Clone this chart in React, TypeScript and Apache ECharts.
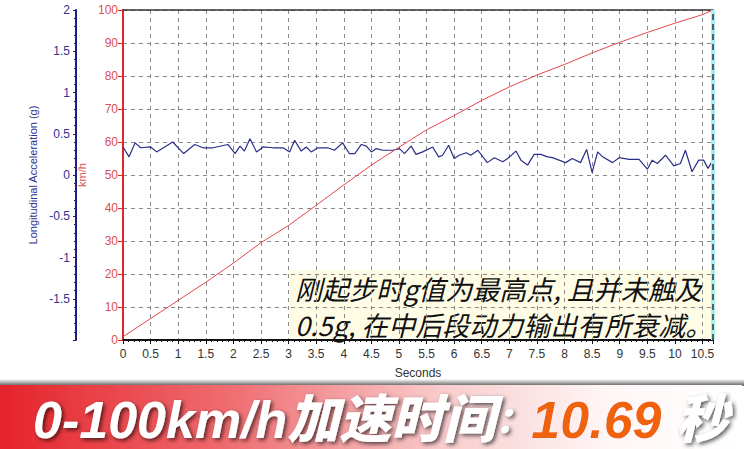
import { useEffect, useRef } from "react";
import * as echarts from "echarts";

// speed trace (km/h) against time (s)
const speedTime = [0, 0.5, 1, 1.5, 2, 2.5, 3, 3.5, 4, 4.5, 5, 5.5, 6, 6.5, 7, 7.5, 8, 8.5, 9, 9.5, 10, 10.5, 10.69];
const speedKmh = [1, 6.5, 12, 17.5, 23.3, 29.5, 34.7, 40.8, 47, 53, 58.4, 63.7, 68, 72.6, 76.7, 80.3, 83.5, 87, 90.2, 93.2, 96, 98.6, 100];

// longitudinal acceleration (g) against time (s)
const accTime = [
  0, 0.11, 0.22, 0.32, 0.5, 0.61, 0.9, 1.1, 1.3, 1.45, 1.63, 1.9, 2.03, 2.12, 2.2, 2.3, 2.42, 2.54, 2.72, 2.9,
  3.02, 3.11, 3.23, 3.32, 3.41, 3.53, 3.71, 3.83, 3.98, 4.1, 4.2, 4.32, 4.41, 4.5, 4.59, 4.71, 4.89, 5.01, 5.1,
  5.22, 5.31, 5.43, 5.61, 5.72, 5.79, 5.9, 6.0, 6.09, 6.22, 6.3, 6.43, 6.6, 6.73, 6.88, 6.97, 7.12, 7.21, 7.33,
  7.45, 7.57, 7.69, 7.78, 7.9, 8.02, 8.14, 8.29, 8.4, 8.5, 8.6, 8.69, 8.87, 8.99, 9.17, 9.35, 9.5, 9.59, 9.68,
  9.83, 9.98, 10.1, 10.19, 10.31, 10.43, 10.52, 10.6, 10.69,
];
const accG = [
  0.34, 0.22, 0.39, 0.33, 0.34, 0.28, 0.4, 0.26, 0.37, 0.33, 0.33, 0.37, 0.26, 0.35, 0.29, 0.44, 0.28, 0.34, 0.33, 0.33,
  0.28, 0.42, 0.29, 0.34, 0.28, 0.33, 0.33, 0.3, 0.39, 0.26, 0.26, 0.37, 0.35, 0.28, 0.32, 0.3, 0.3, 0.32, 0.26,
  0.35, 0.25, 0.28, 0.34, 0.22, 0.24, 0.36, 0.2, 0.24, 0.27, 0.24, 0.3, 0.15, 0.21, 0.16, 0.2, 0.29, 0.18, 0.12,
  0.25, 0.25, 0.22, 0.21, 0.18, 0.15, 0.2, 0.15, 0.31, 0.03, 0.28, 0.22, 0.15, 0.21, 0.19, 0.19, 0.07, 0.18, 0.14,
  0.24, 0.11, 0.14, 0.3, 0.04, 0.18, 0.18, 0.08, 0.18,
];

const runTime = 10.69;
const noteLines = ["刚起步时g值为最高点, 且并未触及", "0.5g, 在中后段动力输出有所衰减。"];
const bannerLabel = "0-100km/h加速时间";
const bannerValue = "10.69";
const bannerUnit = "秒";

const FONT = '"Liberation Sans", Arial, sans-serif';
const RED = "#e0262a";
const NAVY = "#1c1f7e";

export default function App() {
  const chartRef = useRef<HTMLDivElement>(null);

  useEffect(() => {
    if (!chartRef.current) return;
    const chart = echarts.init(chartRef.current, null, { renderer: "svg" });

    const dashed = { color: "#8a8a8a", type: [4, 4] as number[], width: 1 };
    const bannerText = {
      fontSize: 52,
      fontWeight: 900,
      fontStyle: "italic",
      fontFamily: '"Liberation Sans", "Noto Sans CJK SC", sans-serif',
    };
    const whiteShadow = {
      fill: "#fff",
      textShadowColor: "rgba(0,0,0,0.65)",
      textShadowBlur: 4,
      textShadowOffsetX: 2,
      textShadowOffsetY: 2,
    };

    chart.setOption({
      animation: false,
      backgroundColor: "#fff",
      grid: { left: 123, right: 31, top: 10, bottom: 109 },
      xAxis: [
        {
          type: "value",
          min: 0,
          max: runTime,
          interval: 0.5,
          position: "bottom",
          axisLine: { show: true, onZero: false, lineStyle: { color: "#111", width: 2 } },
          axisTick: { show: true, length: 4, lineStyle: { color: "#111" } },
          minorTick: { show: true, splitNumber: 5, length: 2, lineStyle: { color: "#111" } },
          axisLabel: { color: "#333", fontSize: 12, fontFamily: FONT, margin: 8, showMaxLabel: false },
          splitLine: { show: true, lineStyle: dashed },
          name: "Seconds",
          nameLocation: "middle",
          nameGap: 27,
          nameTextStyle: { color: "#333", fontSize: 12, fontFamily: FONT },
        },
        {
          type: "value",
          min: 0,
          max: runTime,
          position: "top",
          axisLine: { show: true, onZero: false, lineStyle: { color: "#333", width: 1.5 } },
          axisTick: { show: false },
          axisLabel: { show: false },
          splitLine: { show: false },
        },
      ],
      yAxis: [
        {
          type: "value",
          min: 0,
          max: 100,
          interval: 10,
          position: "left",
          axisLine: { show: true, onZero: false, lineStyle: { color: RED, width: 2 } },
          axisTick: { show: true, length: 5, lineStyle: { color: RED } },
          axisLabel: { color: "#d9504f", fontSize: 12, fontFamily: FONT, margin: 5 },
          splitLine: { show: true, lineStyle: dashed },
          name: "km/h",
          nameLocation: "middle",
          nameGap: 30,
          nameTextStyle: { color: "#d9504f", fontSize: 11, fontFamily: FONT },
        },
        {
          type: "value",
          min: -2,
          max: 2,
          interval: 0.5,
          position: "left",
          offset: 47,
          axisLine: { show: true, onZero: false, lineStyle: { color: NAVY, width: 2 } },
          axisTick: { show: true, length: 3, lineStyle: { color: NAVY } },
          minorTick: { show: true, splitNumber: 5, length: 2, lineStyle: { color: NAVY } },
          axisLabel: { color: "#2e3290", fontSize: 12, fontFamily: FONT, margin: 6, showMinLabel: false },
          splitLine: { show: false },
          name: "Longitudinal Acceleration (g)",
          nameLocation: "middle",
          nameGap: 34,
          nameTextStyle: { color: "#2e3290", fontSize: 11, fontFamily: FONT },
        },
      ],
      series: [
        {
          type: "line",
          xAxisIndex: 0,
          yAxisIndex: 1,
          data: accTime.map((t, i) => [t, accG[i]]),
          symbol: "none",
          lineStyle: { color: "#2a2f88", width: 1.2 },
          markLine: {
            silent: true,
            symbol: "none",
            label: { show: false },
            lineStyle: { color: "#a8eef2", type: "solid", width: 4 },
            data: [{ xAxis: runTime }],
          },
        },
        {
          type: "line",
          xAxisIndex: 0,
          yAxisIndex: 0,
          data: speedTime.map((t, i) => [t, speedKmh[i]]),
          symbol: "none",
          lineStyle: { color: "#e2474d", width: 1 },
          markLine: {
            silent: true,
            symbol: "none",
            label: { show: false },
            lineStyle: { color: "#333", type: [6, 4], width: 1.5 },
            data: [{ xAxis: runTime }],
          },
        },
      ],
      graphic: [
        {
          type: "group",
          children: [
            {
              type: "rect",
              shape: { x: 290, y: 270, width: 428, height: 68 },
              style: { fill: "rgba(255,252,228,0.92)" },
            },
            {
              type: "text",
              style: {
                x: 295,
                y: 288,
                text: noteLines[0],
                fill: "#111",
                fontSize: 27,
                fontStyle: "italic",
                fontFamily: '"Noto Sans CJK SC", sans-serif',
                verticalAlign: "middle",
              },
            },
            {
              type: "text",
              style: {
                x: 295,
                y: 324,
                text: noteLines[1],
                fill: "#111",
                fontSize: 27,
                fontStyle: "italic",
                fontFamily: '"Noto Sans CJK SC", sans-serif',
                verticalAlign: "middle",
              },
            },
          ],
        },
        {
          type: "rect",
          shape: { x: 0, y: 379, width: 744, height: 7 },
          style: {
            fill: new echarts.graphic.LinearGradient(0, 0, 0, 1, [
              { offset: 0, color: "#ffffff" },
              { offset: 1, color: "#5a5a5a" },
            ]),
          },
        },
        {
          type: "rect",
          shape: { x: 0, y: 385, width: 742, height: 64 },
          style: {
            fill: new echarts.graphic.LinearGradient(0, 0, 1, 0, [
              { offset: 0, color: "#e5232b" },
              { offset: 0.3, color: "#ef6a6e" },
              { offset: 0.6, color: "#f9cdce" },
              { offset: 0.82, color: "#fff6f6" },
              { offset: 1, color: "#ffffff" },
            ]),
          },
        },
        {
          type: "text",
          style: {
            x: 33,
            y: 420,
            verticalAlign: "middle",
            text: `{a|${bannerLabel}}{c|：}{o|${bannerValue}}{w| ${bannerUnit}}`,
            ...bannerText,
            rich: {
              a: { ...bannerText, ...whiteShadow },
              c: { ...bannerText, ...whiteShadow, fontSize: 36 },
              o: {
                ...bannerText,
                fill: "#f06410",
                textShadowColor: "rgba(255,255,255,0.7)",
                textShadowBlur: 3,
              },
              w: { ...bannerText, ...whiteShadow },
            },
          },
        },
      ],
    });

    return () => chart.dispose();
  }, []);

  return (
    <div
      ref={chartRef}
      style={{ position: "fixed", left: 0, top: 0, width: "744px", height: "449px" }}
    />
  );
}
